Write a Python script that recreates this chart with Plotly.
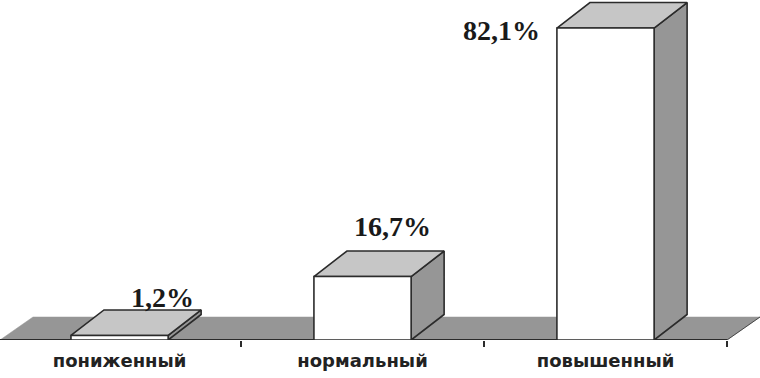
import plotly.graph_objects as go

categories = ["пониженный", "нормальный", "повышенный"]
values = [1.2, 16.7, 82.1]
value_labels = ["1,2%", "16,7%", "82,1%"]

# styling / layout constants
W, H = 760, 378
BOTTOM = 38
PX_PER_CAT = 243.0
PX_PER_PCT = 3.8
XMIN, XEND = -0.492, 2.5
XMAX = XEND + 33 / PX_PER_CAT
YMAX = (H - BOTTOM) / PX_PER_PCT
BAR_W = 0.4
DX = 33 / PX_PER_CAT
DY = 25.5 / PX_PER_PCT
FLOOR_DX = 33 / PX_PER_CAT
FLOOR_DY = 23 / PX_PER_PCT
C_FRONT, C_TOP, C_SIDE, C_FLOOR, C_LINE = "#ffffff", "#c6c6c6", "#969696", "#969696", "#2b2b2b"
# label centre relative to the bar's top-front centre, in pixels
LABEL_OFF = [(43, -38), (30, -50), (-104, 2)]


def poly(xs, ys, fill, line=C_LINE, width=1.6):
    return go.Scatter(
        x=xs + xs[:1], y=ys + ys[:1], mode="lines", fill="toself", fillcolor=fill,
        line=dict(color=line, width=width), hoverinfo="skip", showlegend=False,
        cliponaxis=False,
    )


def stroke(xs, ys, width):
    return go.Scatter(
        x=xs, y=ys, mode="lines", line=dict(color=C_LINE, width=width),
        hoverinfo="skip", showlegend=False, cliponaxis=False,
    )


fig = go.Figure()
fig.add_trace(poly(
    [XMIN, XEND, XEND + FLOOR_DX, XMIN + FLOOR_DX],
    [0, 0, FLOOR_DY, FLOOR_DY], C_FLOOR, line=C_FLOOR, width=0.5,
))
fig.add_trace(stroke([XMIN, XEND], [0, 0], 2))
fig.add_trace(stroke([XEND, XEND + FLOOR_DX], [0, FLOOR_DY], 0.8))

for i, v in enumerate(values):
    l, r = i - BAR_W / 2, i + BAR_W / 2
    fig.add_trace(poly([r, r + DX, r + DX, r], [0, DY, v + DY, v], C_SIDE))
    fig.add_trace(poly([l, r, r + DX, l + DX], [v, v, v + DY, v + DY], C_TOP))
    fig.add_trace(poly([l, r, r, l], [0, 0, v, v], C_FRONT))
    fig.add_annotation(
        x=i, y=v, xref="x", yref="y", text=value_labels[i], showarrow=False,
        xshift=LABEL_OFF[i][0], yshift=-LABEL_OFF[i][1],
        font=dict(family="Liberation Serif", size=28, color="#1a1a1a", weight="bold"),
    )

fig.update_layout(
    width=W, height=H, margin=dict(l=0, r=0, t=0, b=BOTTOM, pad=0),
    paper_bgcolor="white", plot_bgcolor="white", showlegend=False,
    xaxis=dict(
        range=[XMIN, XMAX], tickmode="array", tickvals=[0, 1, 2], ticktext=categories,
        ticks="", showgrid=False, zeroline=False, showline=False,
        ticklabelstandoff=8,
        tickfont=dict(family="DejaVu Sans", size=18, color="#222222", weight="bold"),
        minor=dict(tickmode="array", tickvals=[0.5, 1.5, 2.5], ticks="outside", ticklen=6,
                   tickwidth=1.5, tickcolor=C_LINE, showgrid=False),
        fixedrange=True,
    ),
    yaxis=dict(range=[0, YMAX], visible=False, fixedrange=True),
)
fig.write_html(
    "out.html",
    config={"displayModeBar": False},
    post_script="document.body.style.margin='0';document.body.style.overflow='hidden';",
)
